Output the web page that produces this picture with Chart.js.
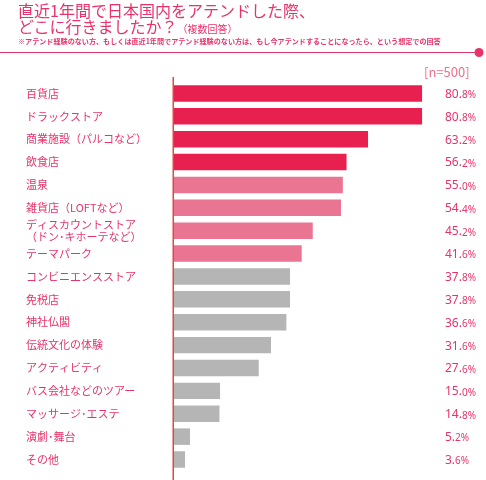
<!DOCTYPE html>
<html>
<head>
<meta charset="utf-8">
<script src="https://cdn.jsdelivr.net/npm/chart.js@4"></script>
<style>
  body { margin: 0; background: #fff; font-family: "Noto Sans CJK JP", sans-serif; }
  #wrap { position: relative; width: 486px; height: 480px; }
  #chart { position: absolute; left: 0; top: 0; }
  .t { position: absolute; left: 18px; color: #e8336a; white-space: nowrap; }
  #t1 { top: 1px; font-size: 16px; line-height: 18px; }
  #t2 { top: 17px; font-size: 16px; line-height: 18px; }
  #t2 small { font-size: 10px; }
  #note { top: 36px; font-size: 7.1px; line-height: 10px; font-weight: bold; }
</style>
</head>
<body>
<div id="wrap">
  <canvas id="chart" width="486" height="480"></canvas>
  <div class="t" id="t1">直近1年間で日本国内をアテンドした際、</div>
  <div class="t" id="t2">どこに行きましたか？<small>（複数回答）</small></div>
  <div class="t" id="note">※アテンド経験のない方、もしくは直近1年間でアテンド経験のない方は、もし今アテンドすることになったら、という想定での回答</div>
</div>
<script>
const places = [
  '百貨店', 'ドラックストア', '商業施設（パルコなど）', '飲食店', '温泉', '雑貨店（LOFTなど）',
  ['ディスカウントストア', '（ドン･キホーテなど）'], 'テーマパーク', 'コンビニエンスストア', '免税店',
  '神社仏閣', '伝統文化の体験', 'アクティビティ', 'バス会社などのツアー', 'マッサージ･エステ',
  '演劇･舞台', 'その他'
];
const shares = [80.8, 80.8, 63.2, 56.2, 55.0, 54.4, 45.2, 41.6, 37.8, 37.8, 36.6, 31.6, 27.6, 15.0, 14.8, 5.2, 3.6];
const sampleLabel = '[n=500]';

const red = '#e8204f';
const pink = '#e97592';
const grey = '#b5b5b5';
const textPink = '#e8336a';

const barColors = shares.map((v, i) => i < 4 ? red : (i < 8 ? pink : grey));

// decorations: header rule, axis line, value labels
const extras = {
  id: 'extras',
  afterDraw(chart) {
    const ctx = chart.ctx;
    const area = chart.chartArea;
    const y = chart.scales.y;
    ctx.save();
    // header rule with dot
    ctx.strokeStyle = textPink;
    ctx.lineWidth = 1;
    ctx.beginPath();
    ctx.moveTo(0, 52.5);
    ctx.lineTo(478, 52.5);
    ctx.stroke();
    ctx.fillStyle = textPink;
    ctx.beginPath();
    ctx.arc(479, 52.5, 4.5, 0, Math.PI * 2);
    ctx.fill();
    // vertical axis line
    ctx.fillStyle = '#e4473c';
    ctx.fillRect(area.left - 1.5, 77, 1.5, 403);
    // n label
    ctx.fillStyle = '#ee6f8e';
    ctx.font = '13px "Noto Sans CJK JP"';
    ctx.textBaseline = 'middle';
    ctx.textAlign = 'left';
    ctx.fillText(sampleLabel, 424, 72);
    // values
    ctx.fillStyle = textPink;
    shares.forEach((v, i) => {
      const yy = y.getPixelForValue(i) + 1;
      const s = v.toFixed(1);
      const head = s.slice(0, s.length - 1);
      const tail = s.slice(-1) + '%';
      ctx.font = '12px "Noto Sans"';
      ctx.fillText(head, 445, yy);
      const w = ctx.measureText(head).width;
      ctx.font = '10px "Noto Sans"';
      ctx.fillText(tail, 445 + w, yy + 1);
    });
    ctx.restore();
  }
};

new Chart(document.getElementById('chart'), {
  type: 'bar',
  data: {
    labels: places,
    datasets: [{
      data: shares,
      backgroundColor: barColors,
      barPercentage: 0.72,
      categoryPercentage: 1
    }]
  },
  options: {
    indexAxis: 'y',
    responsive: false,
    animation: false,
    layout: { padding: { left: 26, top: 82, bottom: 8, right: 5 } },
    plugins: { legend: { display: false }, tooltip: { enabled: false } },
    scales: {
      x: { min: 0, max: 100, display: false },
      y: {
        grid: { display: false },
        border: { display: false },
        afterFit(scale) { scale.width = 148; },
        ticks: {
          autoSkip: false,
          crossAlign: 'far',
          color: textPink,
          font: { family: '"Noto Sans CJK JP"', size: 11, lineHeight: 1.1 }
        }
      }
    }
  },
  plugins: [extras]
});
</script>
</body>
</html>
